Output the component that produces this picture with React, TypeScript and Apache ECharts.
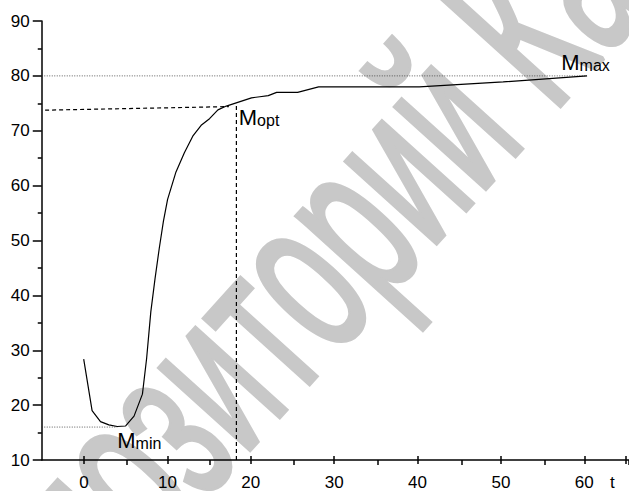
import React, { useEffect, useRef } from "react";
import * as echarts from "echarts";

// Curve M(t)
const tValues = [0, 1, 2, 3, 4, 5, 6, 7, 7.5, 8, 8.5, 9, 9.5, 10, 11, 12, 13, 14, 15, 16, 17, 18, 19, 20, 21, 22, 23, 25.5, 28, 40, 50, 60];
const mValues = [28.4, 19, 17, 16.4, 16.1, 16.2, 18, 22, 28.5, 37, 43, 48.5, 53.5, 57.5, 62.5, 66, 69, 71, 72.2, 73.8, 74.5, 75, 75.5, 76, 76.2, 76.4, 77, 77, 78, 78, 78.9, 80];

// Reference lines [t, M]
const maxRefLine = [[-5, 80], [60, 80]];
const minRefLine = [[-5, 16], [4, 16]];
const optRefHLine = [[-4.6, 73.75], [17.3, 74.4]];
const optRefVLine = [[18.2, 10], [18.2, 75]];

// Tick labels
const xTickValues = [0, 10, 20, 30, 40, 50, 60];
const yTickValues = [10, 20, 30, 40, 50, 60, 70, 80, 90];

// Annotated points
const annotationNames = ["min", "opt", "max"];
const annotationT = [4, 18.2, 60];
const annotationM = [16, 75, 80];

const axisTitle = "t";
const watermarkText = "Репозиторий КарГУ";

export default function App() {
  const ref = useRef<HTMLDivElement>(null);

  useEffect(() => {
    const chart = echarts.init(ref.current!, null, { renderer: "svg" });
    const fontFamily = '"Liberation Sans", Arial, Helvetica, sans-serif';
    const k = 8.45; // px per unit of t
    const left0 = 41.75;
    const top = 21;
    const height = 439;
    const xMin = -5;
    const xMax = 65;
    const gridFor = (min: number) => ({
      left: left0 + (min - xMin) * k,
      top,
      height,
      width: (xMax - min) * k,
    });

    const hiddenY = (gridIndex: number) => ({
      type: "value",
      gridIndex,
      min: 10,
      max: 90,
      show: false,
    });

    const refSeries = (data: number[][], type: any, width: number, color: string) => ({
      type: "line",
      xAxisIndex: 0,
      yAxisIndex: 0,
      data,
      symbol: "none",
      silent: true,
      lineStyle: { color, width, type },
      z: 3,
    });

    const option: any = {
      animation: false,
      backgroundColor: "#ffffff",
      grid: [gridFor(-5), gridFor(0), gridFor(5)],
      xAxis: [
        {
          type: "value",
          gridIndex: 0,
          min: xMin,
          max: xMax,
          axisLine: { onZero: false, lineStyle: { color: "#000", width: 1.5 } },
          axisTick: { show: false },
          axisLabel: { show: false },
          splitLine: { show: false },
        },
        {
          type: "value",
          gridIndex: 1,
          min: 0,
          max: xMax,
          interval: 10,
          axisLine: { show: false, onZero: false },
          axisTick: { show: true, inside: false, length: 8, lineStyle: { color: "#000", width: 1.5 } },
          axisLabel: {
            margin: 18,
            fontSize: 17,
            fontFamily,
            color: "#000",
            formatter: (v: number) => (xTickValues.includes(v) ? String(v) : ""),
          },
          splitLine: { show: false },
        },
        {
          type: "value",
          gridIndex: 2,
          min: 5,
          max: xMax,
          interval: 10,
          axisLine: { show: false, onZero: false },
          axisTick: { show: true, inside: false, length: 5, lineStyle: { color: "#000", width: 1.5 } },
          axisLabel: { show: false },
          splitLine: { show: false },
        },
      ],
      yAxis: [
        {
          type: "value",
          gridIndex: 0,
          min: 10,
          max: 90,
          interval: 10,
          axisLine: { show: true, onZero: false, lineStyle: { color: "#000", width: 1.5 } },
          axisTick: { show: true, inside: false, length: 9, lineStyle: { color: "#000", width: 1.5 } },
          minorTick: { show: true, splitNumber: 2, length: 4, lineStyle: { color: "#000", width: 1.5 } },
          axisLabel: {
            margin: 12,
            fontSize: 17,
            fontFamily,
            color: "#000",
            formatter: (v: number) => (yTickValues.includes(v) ? String(v) : ""),
          },
          splitLine: { show: false },
        },
        hiddenY(1),
        hiddenY(2),
      ],
      series: [
        refSeries(maxRefLine, [1, 1.5], 0.8, "#333"),
        refSeries(minRefLine, [1, 1.5], 0.8, "#333"),
        refSeries(optRefHLine, [4, 3], 1.2, "#000"),
        refSeries(optRefVLine, [4, 3], 1.2, "#000"),
        {
          type: "line",
          xAxisIndex: 0,
          yAxisIndex: 0,
          data: tValues.map((t, i) => [t, mValues[i]]),
          symbol: "none",
          smooth: false,
          lineStyle: { color: "#000", width: 1.2 },
          z: 5,
        },
      ],
      graphic: [
        {
          type: "text",
          id: "wm",
          x: -56,
          y: 669,
          rotation: (47.9 * Math.PI) / 180,
          scaleX: 0.571,
          scaleY: 1,
          z: -10,
          silent: true,
          style: {
            text: watermarkText,
            fill: "#c8c8c8",
            stroke: "#c8c8c8",
            lineWidth: 5,
            font: `230px ${fontFamily}`,
            align: "left",
            verticalAlign: "middle",
          },
        },
        {
          type: "text",
          id: "axisTitle",
          x: 610,
          y: 491,
          style: {
            text: axisTitle,
            fill: "#000",
            font: `17px ${fontFamily}`,
            align: "left",
            verticalAlign: "bottom",
          },
        },
      ],
    };

    chart.setOption(option);

    // label offsets (px) relative to the annotated point: style, not data
    const labelOffsets: Record<string, [number, number]> = {
      min: [0, 24.6],
      opt: [2.4, 25.1],
      max: [-25.8, -2],
    };

    const labels = annotationNames.map((name, i) => {
      const p = chart.convertToPixel({ xAxisIndex: 0, yAxisIndex: 0 }, [annotationT[i], annotationM[i]]) as number[];
      const off = labelOffsets[name];
      return {
        type: "text",
        id: "lbl-" + name,
        x: p[0] + off[0],
        y: p[1] + off[1],
        z: 10,
        style: {
          text: `{m|M}{s|${name}}`,
          align: "left",
          verticalAlign: "bottom",
          fill: "#000",
          rich: {
            m: { fontSize: 22, fontFamily, fill: "#000", verticalAlign: "bottom" },
            s: { fontSize: 16, fontFamily, fill: "#000", verticalAlign: "bottom" },
          },
        },
      };
    });

    chart.setOption({ graphic: labels });

    return () => chart.dispose();
  }, []);

  return (
    <div
      ref={ref}
      style={{ position: "fixed", left: 0, top: 0, width: 629, height: 491, background: "#fff" }}
    />
  );
}
